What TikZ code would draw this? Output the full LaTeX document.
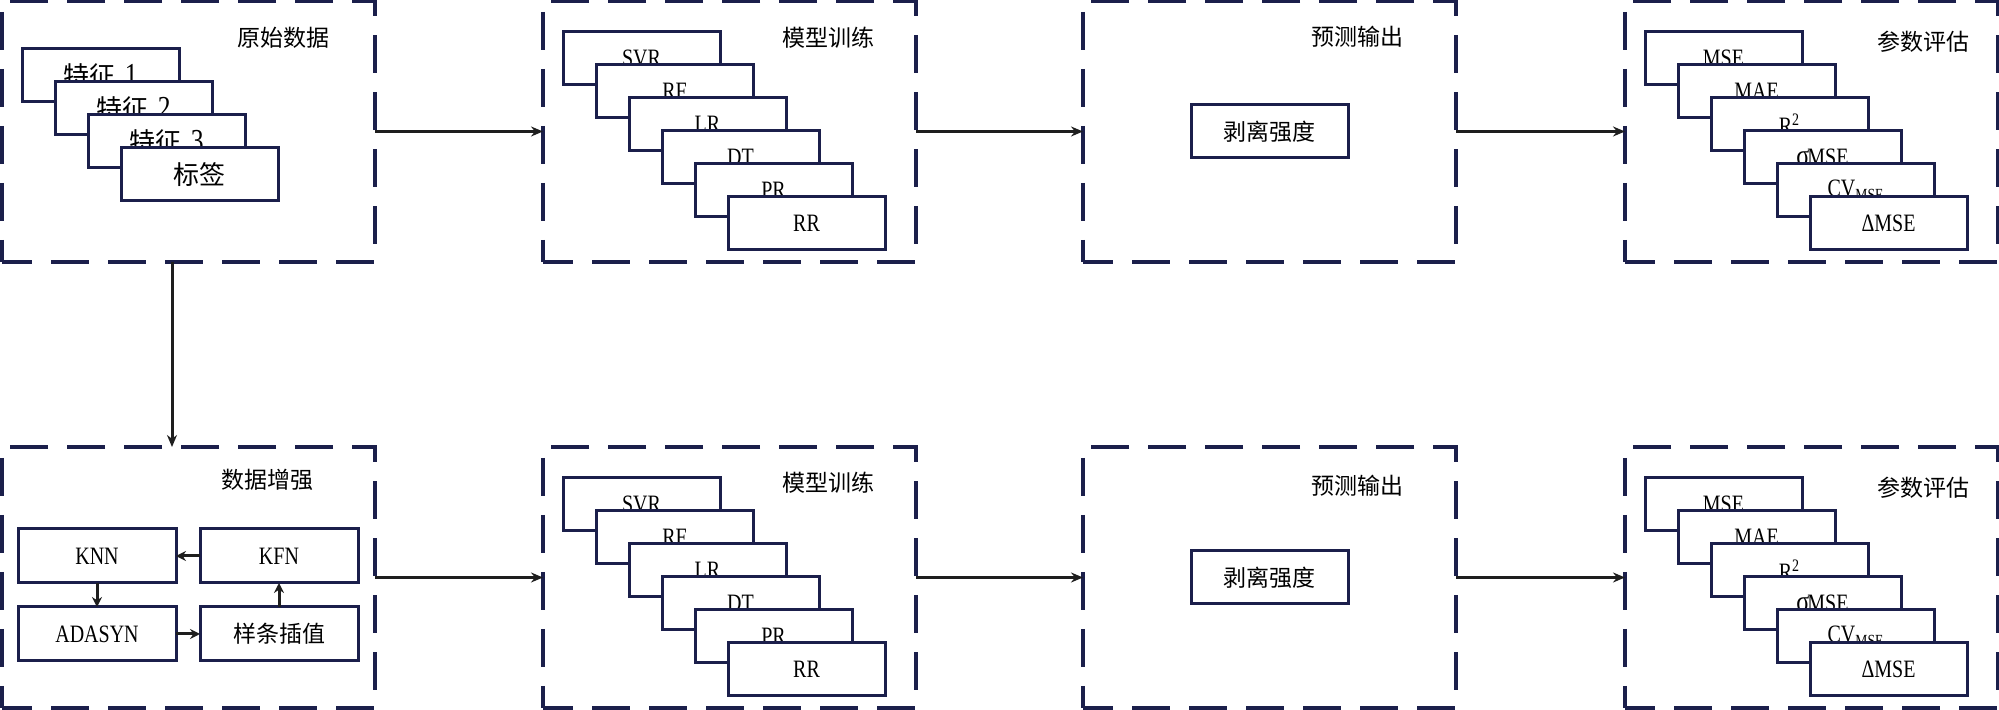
\documentclass[tikz,border=0pt]{standalone}
\usepackage{fontspec}
\setmainfont{Liberation Serif}[FakeStretch=0.8]
\newfontfamily\cjk{Noto Sans CJK SC}
\usetikzlibrary{arrows.meta}
\definecolor{navy}{RGB}{27,31,75}
\definecolor{ink}{RGB}{30,30,30}
\newcommand{\featnum}[1]{{\fontsize{16}{16}\selectfont #1}}
\tikzset{
  group/.style={draw=navy, line width=2pt, dash pattern=on 19pt off 9.5pt, dash phase=4pt,
    minimum width=186.5pt, minimum height=130.5pt, inner sep=0pt, outer sep=0pt},
  card/.style={draw=navy, fill=white, line width=1.5pt, minimum width=78.5pt, minimum height=26.5pt,
    inner sep=0pt, outer sep=0pt, anchor=north west, font=\fontsize{12.5}{13}\selectfont},
  abox/.style={card, minimum width=79pt, minimum height=27pt},
  cjkcard/.style={font=\cjk\fontsize{11.5}{12}\selectfont},
  ttl/.style={font=\cjk\fontsize{11.5}{12}\selectfont, inner sep=0pt},
  arr/.style={draw=ink, line width=1.5pt, -{Stealth[length=6pt,width=5pt]}},
  sarr/.style={draw=ink, line width=1.5pt, -{Stealth[length=5pt,width=5pt]}}
}
\begin{document}
\begin{tikzpicture}[x=0.5pt,y=-0.5pt]
\useasboundingbox (0,0) rectangle (1999,710);
% group boxes
\node[group] (g1) at (188.5,131.5) {};
\node[group] (g2) at (729.5,131.5) {};
\node[group] (g3) at (1269.5,131.5) {};
\node[group] (g4) at (1811.5,131.5) {};
\node[group] (h1) at (188.5,577.5) {};
\node[group] (h2) at (729.5,577.5) {};
\node[group] (h3) at (1269.5,577.5) {};
\node[group] (h4) at (1811.5,577.5) {};
% titles
\node[ttl] (t1) at (283,38) {原始数据};
\node[ttl] (t2) at (828,38) {模型训练};
\node[ttl] (t3) at (1357,37) {预测输出};
\node[ttl] (t4) at (1923,42) {参数评估};
\node[ttl] (u1) at (267,480) {数据增强};
\node[ttl] (u2) at (828,483) {模型训练};
\node[ttl] (u3) at (1357,486) {预测输出};
\node[ttl] (u4) at (1923,488) {参数评估};
% raw data stack
\foreach \i/\lab in {0/{{\cjk 特征}~\,\featnum{1}},1/{{\cjk 特征}~\,\featnum{2}},2/{{\cjk 特征}~\,\featnum{3}},3/{\cjk 标签}}
  \node[card, font=\fontsize{13}{14}\selectfont] (f\i) at (22+33*\i,49+33*\i) {\lab};
% model stacks
\foreach \i/\lab in {0/SVR,1/RF,2/LR,3/DT,4/PR,5/RR}{
  \node[card] (m\i) at (563+33*\i,32+33*\i) {\lab};
  \node[card] (n\i) at (563+33*\i,478+33*\i) {\lab};
}
% metric stacks
\foreach \i/\lab in {0/MSE,1/MAE,2/{R\textsuperscript{2}},3/{{\fontsize{15}{15}\selectfont σ}\kern-1pt MSE},4/{CV\raisebox{-0.3ex}{\fontsize{8.5}{9}\selectfont MSE}},5/{ΔMSE}}{
  \node[card] (e\i) at (1645+33*\i,32+33*\i) {\lab};
  \node[card] (r\i) at (1645+33*\i,478+33*\i) {\lab};
}
% output
\node[card, cjkcard] (o1) at (1191,105) {剥离强度};
\node[card, cjkcard] (o2) at (1191,551) {剥离强度};
% augmentation
\node[abox] (knn) at (18,529) {KNN};
\node[abox] (kfn) at (200,529) {KFN};
\node[abox] (ada) at (18,607) {ADASYN};
\node[abox, cjkcard] (spl) at (200,607) {样条插值};
\draw[sarr] (kfn.west) -- (knn.east);
\draw[sarr] (knn.south) -- (ada.north);
\draw[sarr] (ada.east) -- (spl.west);
\draw[sarr] (spl.north) -- (kfn.south);
% main arrows
\draw[arr] (g1.east) -- (g2.west);
\draw[arr] (g2.east) -- (g3.west);
\draw[arr] (g3.east) -- (g4.west);
\draw[arr] (h1.east) -- (h2.west);
\draw[arr] (h2.east) -- (h3.west);
\draw[arr] (h3.east) -- (h4.west);
\draw[arr] ([xshift=-8.25pt]g1.south) -- ([xshift=-8.25pt]h1.north);
\end{tikzpicture}
\end{document}
